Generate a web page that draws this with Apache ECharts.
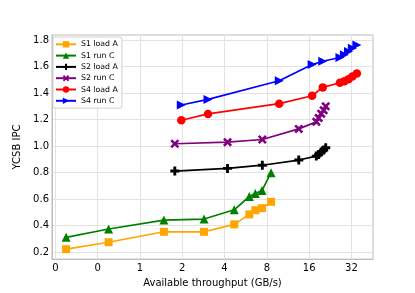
<!DOCTYPE html>
<html>
<head>
<meta charset="utf-8">
<script src="https://cdn.jsdelivr.net/npm/echarts@6/dist/echarts.min.js"></script>
<style>html,body{margin:0;padding:0;background:#fff;}#c{width:415px;height:293px;}</style>
</head>
<body>
<div id="c"></div>
<script>
// Data (x = available throughput GB/s, y = YCSB IPC)
const s1LoadAX = [0.298, 0.598, 1.48, 2.86, 4.69, 6.0, 6.62, 7.39, 8.57];
const s1LoadAY = [0.223, 0.275, 0.354, 0.354, 0.41, 0.485, 0.517, 0.532, 0.58];
const s1RunCX = [0.298, 0.598, 1.48, 2.86, 4.69, 6.0, 6.62, 7.39, 8.57];
const s1RunCY = [0.312, 0.375, 0.442, 0.45, 0.52, 0.62, 0.643, 0.665, 0.80];
const s2LoadAX = [1.77, 4.20, 7.43, 13.5, 18.0, 18.7, 19.5, 20.3, 21.0];
const s2LoadAY = [0.812, 0.832, 0.856, 0.895, 0.925, 0.937, 0.955, 0.97, 0.988];
const s2RunCX = [1.77, 4.20, 7.43, 13.5, 18.0, 18.7, 19.5, 20.3, 21.0];
const s2RunCY = [1.018, 1.03, 1.05, 1.13, 1.183, 1.213, 1.245, 1.27, 1.30];
const s4LoadAX = [1.97, 3.05, 9.8, 16.8, 20.0, 26.5, 28.5, 30.5, 32.5, 35.0];
const s4LoadAY = [1.195, 1.243, 1.32, 1.38, 1.443, 1.478, 1.49, 1.505, 1.525, 1.548];
const s4RunCX = [1.97, 3.05, 9.8, 16.8, 20.0, 26.5, 28.5, 30.5, 32.5, 35.0];
const s4RunCY = [1.31, 1.352, 1.493, 1.615, 1.64, 1.668, 1.69, 1.713, 1.738, 1.762];

const xTickValues = [0.25, 0.5, 1, 2, 4, 8, 16, 32];
const xTickLabels = ['0', '0', '1', '2', '4', '8', '16', '32'];
const yTickValues = [0.2, 0.4, 0.6, 0.8, 1.0, 1.2, 1.4, 1.6, 1.8];

const seriesNames = ['S1 load A', 'S1 run C', 'S2 load A', 'S2 run C', 'S4 load A', 'S4 run C'];
const seriesColors = ['#FFA500', '#008000', '#000000', '#800080', '#FF0000', '#0000FF'];

const PLUS = 'path://M3.4,0H6.6V3.4H10V6.6H6.6V10H3.4V6.6H0V3.4H3.4Z';
const XMARK = 'path://M2,0L5,3L8,0L10,2L7,5L10,8L8,10L5,7L2,10L0,8L3,5L0,2Z';
const symbols = ['rect', 'triangle', PLUS, XMARK, 'circle', 'triangle'];
const symbolSizes = [8, 9, 9, 9, 8.5, 9];
const symbolRotates = [0, 0, 0, 0, 0, -90];

const xs = [s1LoadAX, s1RunCX, s2LoadAX, s2RunCX, s4LoadAX, s4RunCX];
const ys = [s1LoadAY, s1RunCY, s2LoadAY, s2RunCY, s4LoadAY, s4RunCY];

const FONT = 'DejaVu Sans';
const series = seriesNames.map((name, i) => ({
  name: name,
  type: 'line',
  data: xs[i].map((x, j) => [x, ys[i][j]]),
  symbol: symbols[i],
  symbolSize: symbolSizes[i],
  symbolRotate: symbolRotates[i],
  showAllSymbol: true,
  color: seriesColors[i],
  lineStyle: { width: 1.7, color: seriesColors[i] },
  itemStyle: { color: seriesColors[i] },
  animation: false,
  z: 3
}));

const chart = echarts.init(document.getElementById('c'), null, { renderer: 'canvas' });
chart.setOption({
  animation: false,
  backgroundColor: '#fff',
  grid: { left: 52, right: 42, top: 35, bottom: 33, show: true, borderColor: '#bdbdbd', borderWidth: 1, containLabel: false },
  legend: {
    orient: 'vertical',
    left: 53,
    top: 37,
    data: seriesNames,
    itemWidth: 20,
    itemHeight: 8,
    itemGap: 3.3,
    padding: [3.3, 4, 3.3, 2],
    backgroundColor: '#fff',
    borderColor: '#d0d0d0',
    borderWidth: 1,
    borderRadius: 2,
    textStyle: { fontFamily: FONT, fontSize: 7.8, color: '#000', padding: [0, 0, 0, 0] },
    z: 10
  },
  xAxis: {
    type: 'log',
    logBase: 2,
    min: Math.pow(2, -2.08),
    max: Math.pow(2, 5.51),
    name: 'Available throughput (GB/s)',
    nameLocation: 'middle',
    nameGap: 17,
    nameTextStyle: { fontFamily: FONT, fontSize: 10, color: '#000' },
    axisLine: { show: true, lineStyle: { color: '#bdbdbd', width: 1 } },
    axisTick: { show: false, customValues: xTickValues },
    axisLabel: {
      customValues: xTickValues,
      fontFamily: FONT, fontSize: 10, color: '#000', margin: 4,
      formatter: function (v) {
        let idx = -1;
        for (let k = 0; k < xTickValues.length; k++) {
          if (Math.abs(xTickValues[k] - v) < 1e-6 * Math.max(1, v)) idx = k;
        }
        return idx >= 0 ? xTickLabels[idx] : '';
      }
    },
    splitLine: { show: true, lineStyle: { color: '#e3e3e3', width: 1 } }
  },
  yAxis: {
    type: 'value',
    min: 0.148,
    max: 1.838,
    name: 'YCSB IPC',
    nameLocation: 'middle',
    nameGap: 20,
    nameTextStyle: { fontFamily: FONT, fontSize: 10, color: '#000' },
    axisLine: { show: true, lineStyle: { color: '#bdbdbd', width: 1 } },
    axisTick: { show: false, customValues: yTickValues },
    axisLabel: {
      customValues: yTickValues,
      fontFamily: FONT, fontSize: 10, color: '#000', margin: 3,
      formatter: function (v) { return v.toFixed(1); }
    },
    splitLine: { show: true, lineStyle: { color: '#e3e3e3', width: 1 } }
  },
  series: series
});
</script>
</body>
</html>
